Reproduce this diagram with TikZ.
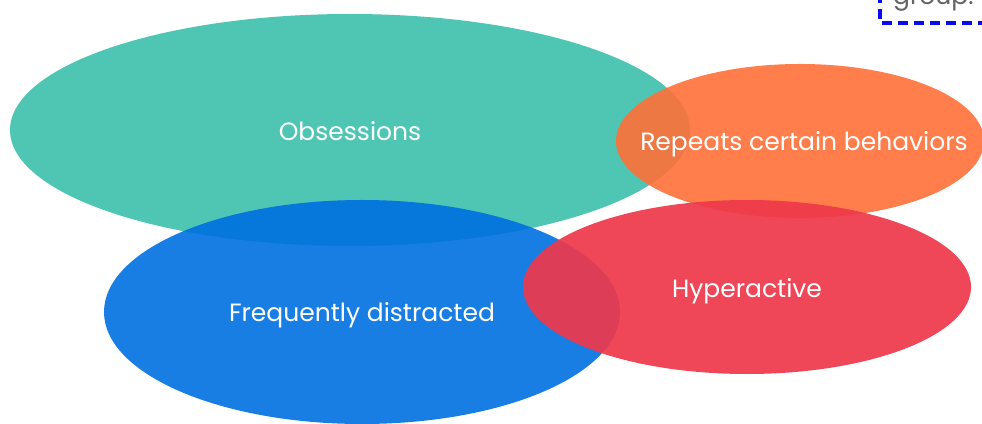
\documentclass[tikz,border=0pt]{standalone}
\usepackage{fontspec}
\setmainfont{Poppins}
\definecolor{cgreen}{RGB}{60,192,172}
\definecolor{corange}{RGB}{255,112,56}
\definecolor{cblue}{RGB}{0,112,224}
\definecolor{cred}{RGB}{238,56,74}
\definecolor{cdash}{RGB}{10,10,240}
\definecolor{cgray}{RGB}{100,100,100}
\begin{document}
\begin{tikzpicture}[x=1pt,y=1pt,
  blob/.style={fill opacity=0.9},
  lbl/.style={text=white, font=\fontsize{25}{28}\selectfont}]
\useasboundingbox (0,0) rectangle (982,423);
\clip (0,0) rectangle (982,423);
\fill[white] (0,0) rectangle (982,423);
\fill[cgreen, blob] (350,293) ellipse [x radius=340, y radius=116];
\fill[corange, blob] (800,282) ellipse [x radius=184, y radius=77];
\fill[cblue, blob] (362,111) ellipse [x radius=258, y radius=112];
\fill[cred, blob, fill opacity=0.92] (747,136) ellipse [x radius=224, y radius=87];
\node[lbl] (obs) at (350,292) {Obsessions};
\node[lbl] (rep) at (804,279) {Repeats certain behaviors};
\node[lbl] (dis) at (362,108) {Frequently distracted};
\node[lbl] (hyp) at (747,132) {Hyperactive};
\draw[cdash, line width=3.5pt, dash pattern=on 10pt off 6pt] (880,430) -- (880,400) -- (990,400);
\node[anchor=base west, text=cgray, inner sep=0pt, font=\fontsize{25}{28}\selectfont] (grp) at (893,418) {group.};
\end{tikzpicture}
\end{document}
